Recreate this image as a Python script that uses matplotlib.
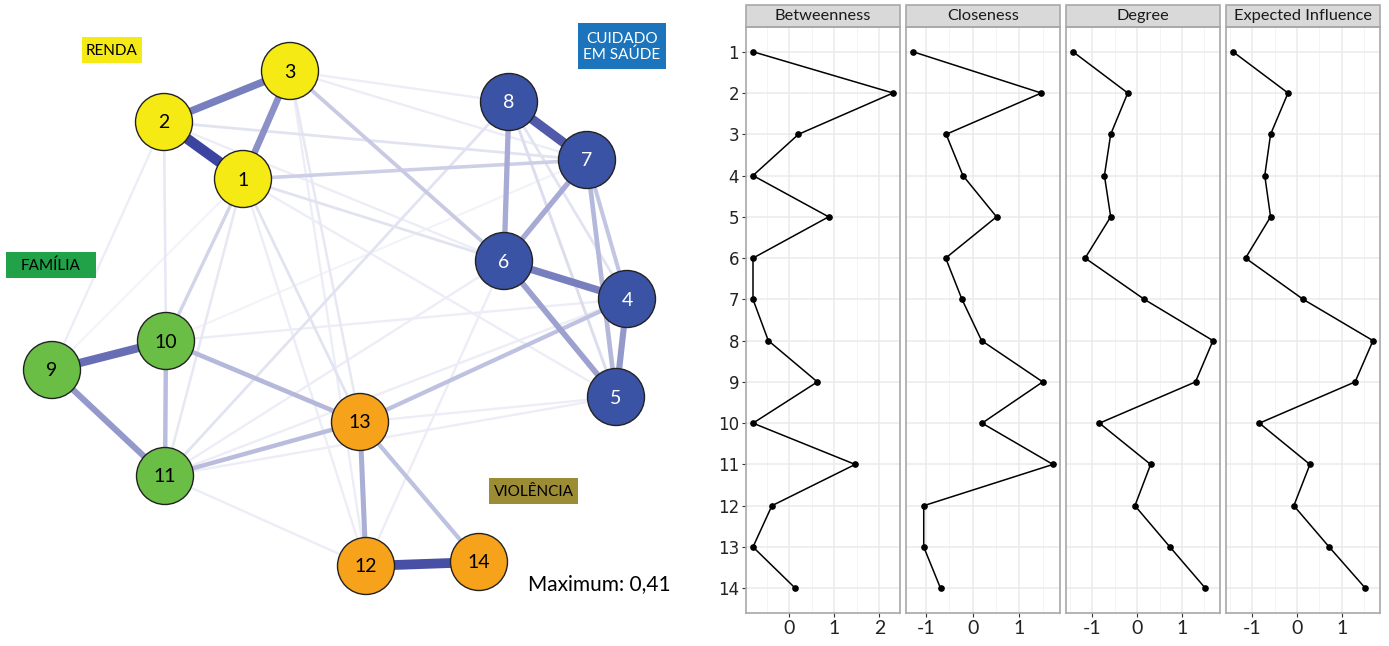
import matplotlib
matplotlib.use("Agg")
import matplotlib.pyplot as plt
from matplotlib.patches import Circle, Rectangle
import numpy as np

plt.rcParams["axes.unicode_minus"] = False

# ---- network data ----
nodes = list(range(1, 15))
node_x = [243, 164, 290, 627, 616, 504, 587, 509, 52, 166, 165, 366, 360, 479]
node_y = [179, 122, 71, 299, 397, 261, 160, 102, 370, 341, 476, 566, 422, 562]
node_group = ["renda", "renda", "renda", "saude", "saude", "saude", "saude", "saude",
              "familia", "familia", "familia", "violencia", "violencia", "violencia"]

edge_from = [1, 12, 7, 9, 2, 4, 1, 4, 9, 5, 6, 6, 12, 5, 10, 10, 11, 4, 13, 4, 3, 1, 1,
             5, 4, 1, 2, 1, 1, 3, 8, 2, 2, 3, 3, 1, 6, 6, 4, 5, 5, 10, 11, 1, 2, 3, 9, 7]
edge_to = [2, 14, 8, 10, 3, 6, 3, 5, 11, 6, 8, 7, 13, 7, 11, 13, 13, 13, 14, 7, 6, 7, 10,
           8, 8, 6, 7, 13, 11, 13, 11, 10, 9, 8, 7, 12, 11, 12, 11, 11, 13, 4, 12, 5, 6, 12, 1, 10]
edge_w = [0.41, 0.38, 0.36, 0.31, 0.27, 0.27, 0.23, 0.21, 0.21, 0.19, 0.17, 0.17, 0.16,
          0.14, 0.13, 0.14, 0.13, 0.12, 0.12, 0.11, 0.10, 0.09, 0.08,
          0.06, 0.05, 0.05, 0.05, 0.05, 0.04, 0.04, 0.05, 0.04, 0.03, 0.03, 0.03, 0.03,
          0.03, 0.03, 0.03, 0.03, 0.03, 0.03, 0.03, 0.03, 0.03, 0.03, 0.02, 0.02]
max_w = 0.41

group_colors = {"renda": "#F5EA14", "saude": "#3A53A4", "familia": "#6ABD45", "violencia": "#F7A21B"}
label_colors = {"renda": "black", "saude": "white", "familia": "black", "violencia": "black"}

groups = ["RENDA", "CUIDADO\nEM SAÚDE", "FAMÍLIA", "VIOLÊNCIA"]
group_box_colors = ["#F5EA14", "#1C75BC", "#21A249", "#9C8C33"]
group_text_colors = ["black", "white", "black", "black"]
group_boxes = [(82, 37, 60, 26), (578, 23, 88, 46), (6, 252, 90, 26), (489, 478, 89, 26)]

# ---- centrality data ----
measures = ["Betweenness", "Closeness", "Degree", "Expected Influence"]
betweenness = [-0.81, 2.30, 0.20, -0.81, 0.87, -0.81, -0.81, -0.47, 0.62, -0.81, 1.46, -0.39, -0.81, 0.13]
closeness = [-1.28, 1.47, -0.57, -0.21, 0.51, -0.58, -0.23, 0.19, 1.50, 0.20, 1.72, -1.05, -1.05, -0.69]
degree = [-1.43, -0.21, -0.59, -0.73, -0.59, -1.16, 0.16, 1.69, 1.30, -0.84, 0.30, -0.05, 0.73, 1.52]
expected_influence = [-1.43, -0.20, -0.59, -0.72, -0.59, -1.15, 0.14, 1.70, 1.30, -0.84, 0.29, -0.07, 0.72, 1.53]
values = [betweenness, closeness, degree, expected_influence]
major_ticks = [[0, 1, 2], [-1, 0, 1], [-1, 0, 1], [-1, 0, 1]]

W, H = 1389, 646
fig = plt.figure(figsize=(W / 100, H / 100), dpi=100)
font = ["Lato", "DejaVu Sans"]

# ---- network ----
ax = fig.add_axes([0, 0, 700 / W, 1])
ax.set_xlim(0, 700)
ax.set_ylim(H, 0)
ax.axis("off")

base = np.array([0x3B, 0x44, 0xA0]) / 255
order = np.argsort(edge_w)
for i in order:
    a, b, w = edge_from[i], edge_to[i], edge_w[i]
    frac = (w / max_w) ** 0.9
    col = base * frac + (1 - frac)
    ax.plot([node_x[a - 1], node_x[b - 1]], [node_y[a - 1], node_y[b - 1]],
            color=col, lw=1.2 + 6.3 * w / max_w, solid_capstyle="butt", zorder=1)

for n, x, y, g in zip(nodes, node_x, node_y, node_group):
    ax.add_patch(Circle((x, y), 28.5, facecolor=group_colors[g], edgecolor="#222222", lw=1, zorder=3))
    ax.text(x, y + 1, str(n), ha="center", va="center", fontsize=14, color=label_colors[g],
            family=font, zorder=4)

for txt, fc, tc, (x0, y0, bw, bh) in zip(groups, group_box_colors, group_text_colors, group_boxes):
    ax.add_patch(Rectangle((x0, y0), bw, bh, facecolor=fc, edgecolor="none", zorder=5))
    ax.text(x0 + bw / 2, y0 + bh / 2 + 1, txt, ha="center", va="center", fontsize=11, color=tc,
            family=font, linespacing=1.05, zorder=6)

ax.text(528, 584, "Maximum: 0,41", ha="left", va="center", fontsize=15, family=font)

# ---- centrality facets ----
panel_left = [746, 906, 1066, 1226]
panel_w = 154
top, bottom = 27, 613
rows = np.arange(1, 15)
for k, (name, vals, ticks) in enumerate(zip(measures, values, major_ticks)):
    cx = fig.add_axes([panel_left[k] / W, (H - bottom) / H, panel_w / W, (bottom - top) / H])
    lo, hi = min(vals), max(vals)
    pad = 0.05 * (hi - lo)
    cx.set_xlim(lo - pad, hi + pad)
    cx.set_ylim(14.6, 0.4)
    cx.set_xticks(ticks)
    minors = [t + 0.5 for t in range(-2, 3)]
    cx.set_xticks([m for m in minors if lo - pad < m < hi + pad], minor=True)
    cx.set_yticks(rows)
    cx.grid(True, which="major", color="#EBEBEB", lw=1.1)
    cx.grid(True, which="minor", axis="x", color="#F4F4F4", lw=0.7)
    cx.set_axisbelow(True)
    cx.plot(vals, rows, color="black", lw=1.1, marker="o", markersize=3.8, zorder=3)
    for s in cx.spines.values():
        s.set_color("#A8A8A8")
        s.set_linewidth(1.2)
    cx.tick_params(axis="x", which="major", length=3, color="#333333", labelsize=14, pad=2)
    cx.tick_params(axis="x", which="minor", length=0)
    for lab in cx.get_xticklabels():
        lab.set_family(font)
        lab.set_color("#222222")
    if k == 0:
        cx.set_yticklabels([str(r) for r in rows])
        cx.tick_params(axis="y", length=3, color="#333333", labelsize=12, pad=2)
        for lab in cx.get_yticklabels():
            lab.set_color("#222222")
    else:
        cx.tick_params(axis="y", length=0, labelleft=False)
    strip_h = 22 / (bottom - top)
    cx.add_patch(Rectangle((0, 1), 1, strip_h, transform=cx.transAxes, facecolor="#D9D9D9",
                           edgecolor="#A8A8A8", lw=1.2, clip_on=False))
    cx.text(0.5, 1 + strip_h / 2, name, transform=cx.transAxes, ha="center", va="center",
            fontsize=11.8, family=font, color="#1A1A1A")

fig.savefig("out.png", dpi=100)
